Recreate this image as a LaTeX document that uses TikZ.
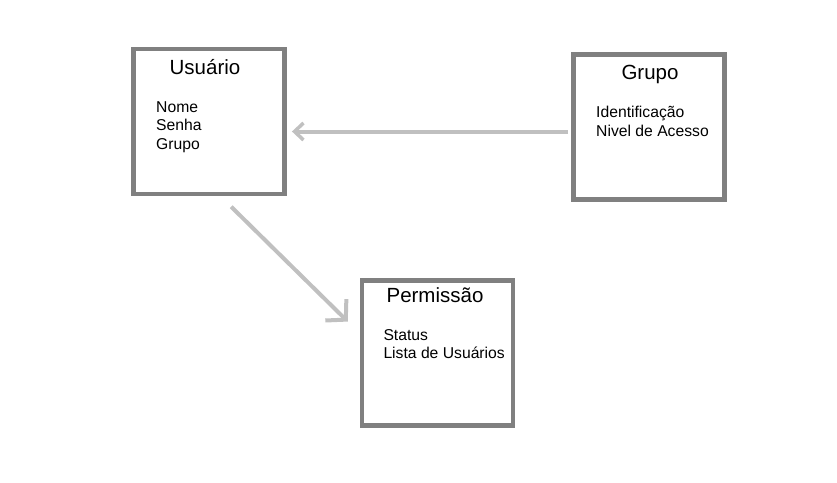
\documentclass[tikz,border=0pt]{standalone}
\usepackage{fontspec}
\setmainfont{Liberation Sans}
\usetikzlibrary{arrows.meta,positioning}
\definecolor{boxgray}{RGB}{128,128,128}
\definecolor{linkgray}{RGB}{192,192,192}

\begin{document}
\begin{tikzpicture}[
  x=1pt, y=-1pt,
  every node/.style={inner sep=0pt},
  classbox/.style={draw=boxgray,line width=4.5pt,fill=white,minimum width=151pt,minimum height=145pt},
  classtitle/.style={font=\fontsize{20.5}{24}\selectfont,anchor=base},
  classbody/.style={font=\fontsize{15.7}{18.3}\selectfont,align=left,anchor=base west},
  link/.style={draw=linkgray,line width=4pt},
]
  \useasboundingbox (0,0) rectangle (837,482);
  % Usuario
  \node[classbox] (usuario) at (209.2,121.5) {};
  \node[classtitle] (usuarioT) at (205,74.5) {Usuário};
  \node[classbody] (usuarioB) at (156,149.1) {Nome\\Senha\\Grupo};
  % Grupo
  \node[classbox] (grupo) at (648.8,127) {};
  \node[classtitle] (grupoT) at (650,79.3) {Grupo};
  \node[classbody] (grupoB) at (596,136) {Identificação\\Nivel de Acesso};
  % Permissao
  \node[classbox] (permissao) at (437.5,352.8) {};
  \node[classtitle] (permissaoT) at (435,302.7) {Permissão};
  \node[classbody] (permissaoB) at (383.3,358.3) {Status\\Lista de Usuários};
  % links
  \draw[link,-{Straight Barb[length=9pt,width=17pt,line width=3.5pt]}]
    ([xshift=-3pt,yshift=-4.5pt]grupo.west) -- ([xshift=5pt,yshift=-10pt]usuario.east);
  \draw[link,-{Straight Barb[length=14pt,width=30pt,line width=4pt]}]
    ([xshift=22pt,yshift=-10.5pt]usuario.south) -- ([xshift=-12pt,yshift=-43.5pt]permissao.north west);
\end{tikzpicture}
\end{document}
